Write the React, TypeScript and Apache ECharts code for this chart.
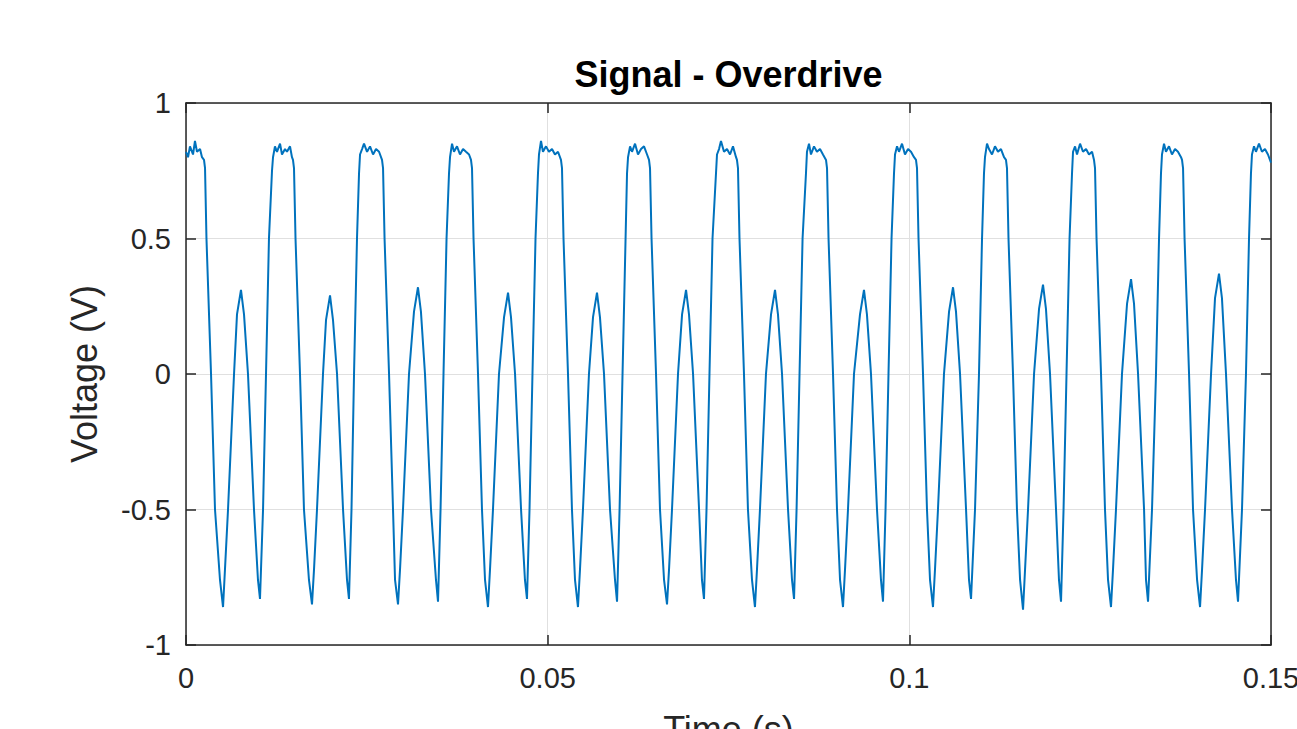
import React, { useEffect, useRef } from "react";
import * as echarts from "echarts";

// Time (ms) / voltage (V) pairs, one array per period
const cycle01 = [[0.00,0.82],[0.28,0.80],[0.55,0.84],[0.97,0.81],[1.24,0.86],[1.52,0.82],[1.94,0.83],[2.21,0.80],[2.49,0.79],[2.63,0.76],[2.83,0.5],[3.46,0],[4.01,-0.5],[4.70,-0.76],[5.12,-0.86],[5.39,-0.72],[5.81,-0.5],[6.64,0],[7.05,0.22],[7.60,0.31],[8.02,0.22],[8.57,0],[9.40,-0.5],[9.95,-0.76],[10.23,-0.83],[10.65,-0.5],[11.06,0],[11.47,0.5],[11.89,0.75]];
const cycle02 = [[12.03,0.80],[12.30,0.84],[12.58,0.82],[13.00,0.85],[13.27,0.81],[13.69,0.83],[13.96,0.82],[14.38,0.84],[14.65,0.80],[14.79,0.79],[14.93,0.76],[15.14,0.5],[15.76,0],[16.31,-0.5],[17.00,-0.76],[17.42,-0.85],[17.70,-0.72],[18.11,-0.5],[18.94,0],[19.36,0.20],[19.91,0.29],[20.32,0.20],[20.88,0],[21.71,-0.5],[22.26,-0.76],[22.53,-0.83],[22.88,-0.5],[23.23,0],[23.64,0.5],[23.92,0.74]];
const cycle03 = [[24.06,0.81],[24.34,0.83],[24.61,0.85],[25.03,0.82],[25.44,0.84],[25.86,0.81],[26.27,0.83],[26.69,0.82],[27.10,0.79],[27.24,0.76],[27.45,0.5],[28.07,0],[28.62,-0.5],[28.90,-0.76],[29.31,-0.85],[29.59,-0.72],[30.00,-0.5],[30.83,0],[31.52,0.23],[32.07,0.32],[32.48,0.23],[33.04,0],[33.87,-0.5],[34.56,-0.76],[34.84,-0.84],[35.19,-0.5],[35.60,0],[36.02,0.5],[36.36,0.74]];
const cycle04 = [[36.50,0.80],[36.78,0.85],[37.05,0.82],[37.47,0.84],[37.88,0.81],[38.30,0.83],[38.71,0.82],[39.13,0.81],[39.40,0.79],[39.54,0.76],[39.75,0.5],[40.37,0],[40.92,-0.5],[41.34,-0.76],[41.75,-0.86],[42.03,-0.72],[42.44,-0.5],[43.27,0],[43.97,0.21],[44.52,0.30],[44.93,0.21],[45.49,0],[46.32,-0.5],[46.86,-0.76],[47.14,-0.83],[47.49,-0.5],[47.90,0],[48.32,0.5],[48.66,0.74]];
const cycle05 = [[48.80,0.81],[49.08,0.86],[49.35,0.82],[49.77,0.84],[50.18,0.82],[50.60,0.83],[51.01,0.81],[51.43,0.82],[51.84,0.79],[51.98,0.76],[52.19,0.5],[52.81,0],[53.36,-0.5],[53.78,-0.76],[54.19,-0.86],[54.47,-0.72],[54.88,-0.5],[55.71,0],[56.27,0.21],[56.82,0.30],[57.23,0.21],[57.79,0],[58.62,-0.5],[59.31,-0.76],[59.59,-0.84],[59.94,-0.5],[60.35,0],[60.77,0.5],[60.97,0.74]];
const cycle06 = [[61.11,0.80],[61.39,0.84],[61.66,0.82],[62.08,0.85],[62.49,0.81],[62.91,0.83],[63.32,0.84],[63.74,0.81],[64.01,0.79],[64.15,0.76],[64.36,0.5],[64.98,0],[65.53,-0.5],[66.09,-0.76],[66.50,-0.85],[66.78,-0.72],[67.19,-0.5],[68.02,0],[68.58,0.22],[69.13,0.31],[69.54,0.22],[70.10,0],[70.93,-0.5],[71.33,-0.76],[71.61,-0.83],[71.96,-0.5],[72.37,0],[72.79,0.5],[73.27,0.74]];
const cycle07 = [[73.41,0.81],[73.69,0.83],[73.96,0.86],[74.38,0.82],[74.79,0.83],[75.21,0.81],[75.62,0.84],[76.04,0.80],[76.17,0.79],[76.31,0.76],[76.52,0.5],[77.14,0],[77.69,-0.5],[78.25,-0.76],[78.66,-0.86],[78.94,-0.72],[79.35,-0.5],[80.18,0],[80.88,0.22],[81.43,0.31],[81.84,0.22],[82.40,0],[83.23,-0.5],[83.78,-0.76],[84.06,-0.83],[84.41,-0.5],[84.82,0],[85.24,0.5],[85.71,0.74]];
const cycle08 = [[85.85,0.82],[86.13,0.85],[86.40,0.81],[86.82,0.84],[87.23,0.82],[87.65,0.83],[88.06,0.81],[88.48,0.79],[88.62,0.76],[88.83,0.5],[89.45,0],[90.00,-0.5],[90.42,-0.76],[90.83,-0.86],[91.11,-0.72],[91.52,-0.5],[92.35,0],[93.18,0.22],[93.73,0.31],[94.14,0.22],[94.70,0],[95.53,-0.5],[96.08,-0.76],[96.36,-0.84],[96.71,-0.5],[97.12,0],[97.54,0.5],[97.88,0.74]];
const cycle09 = [[98.02,0.81],[98.30,0.84],[98.57,0.82],[98.99,0.85],[99.40,0.81],[99.82,0.83],[100.23,0.82],[100.65,0.80],[100.92,0.79],[101.06,0.76],[101.27,0.5],[101.89,0],[102.44,-0.5],[102.86,-0.76],[103.27,-0.86],[103.55,-0.72],[103.96,-0.5],[104.79,0],[105.49,0.23],[106.04,0.32],[106.45,0.23],[107.01,0],[107.84,-0.5],[108.25,-0.76],[108.53,-0.83],[109.08,-0.5],[109.63,0],[110.05,0.5],[110.32,0.74]];
const cycle10 = [[110.46,0.80],[110.74,0.85],[111.01,0.83],[111.43,0.81],[111.84,0.84],[112.26,0.82],[112.67,0.83],[113.09,0.80],[113.36,0.79],[113.50,0.76],[113.71,0.5],[114.33,0],[114.88,-0.5],[115.31,-0.76],[115.72,-0.87],[116.00,-0.72],[116.41,-0.5],[117.24,0],[117.93,0.24],[118.48,0.33],[118.89,0.24],[119.45,0],[120.28,-0.5],[120.69,-0.76],[120.97,-0.84],[121.32,-0.5],[121.73,0],[122.15,0.5],[122.49,0.74]];
const cycle11 = [[122.63,0.82],[122.91,0.84],[123.18,0.81],[123.60,0.85],[124.01,0.82],[124.43,0.83],[124.84,0.81],[125.26,0.82],[125.53,0.79],[125.67,0.76],[125.88,0.5],[126.50,0],[127.05,-0.5],[127.47,-0.76],[127.88,-0.86],[128.16,-0.72],[128.57,-0.5],[129.40,0],[130.10,0.26],[130.65,0.35],[131.06,0.26],[131.62,0],[132.45,-0.5],[132.72,-0.76],[133.00,-0.84],[133.55,-0.5],[134.10,0],[134.52,0.5],[134.79,0.74]];
const cycle12 = [[134.93,0.81],[135.21,0.85],[135.48,0.82],[135.90,0.84],[136.31,0.81],[136.73,0.83],[137.14,0.82],[137.56,0.80],[137.70,0.79],[137.84,0.76],[138.05,0.5],[138.67,0],[139.22,-0.5],[139.78,-0.76],[140.19,-0.86],[140.47,-0.72],[140.88,-0.5],[141.71,0],[142.26,0.28],[142.81,0.37],[143.22,0.28],[143.78,0],[144.61,-0.5],[145.16,-0.76],[145.44,-0.84],[145.99,-0.5],[146.54,0],[146.96,0.5],[147.23,0.74]];
const cycle13 = [[147.37,0.81],[147.65,0.84],[147.92,0.82],[148.34,0.85],[148.75,0.82],[149.17,0.83],[149.58,0.81],[150.00,0.78]];

const xTicks = [0, 0.05, 0.1, 0.15];
const yTicks = [-1, -0.5, 0, 0.5, 1];

const titleText = "Signal - Overdrive";
const xName = "Time (s)";
const yName = "Voltage (V)";

const cycles = [cycle01, cycle02, cycle03, cycle04, cycle05, cycle06, cycle07, cycle08, cycle09, cycle10, cycle11, cycle12, cycle13];

export default function App() {
  const ref = useRef<HTMLDivElement>(null);
  useEffect(() => {
    if (!ref.current) return;
    const chart = echarts.init(ref.current, null, { renderer: "svg" });
    const data = cycles.flat().map(([ms, v]) => [ms / 1000, v]);
    const axisColor = "#262626";
    const font = '"Liberation Sans", Arial, Helvetica, sans-serif';
    const xMin = xTicks[0];
    const xMax = xTicks[xTicks.length - 1];
    const xInt = xTicks[1] - xTicks[0];
    const yMin = yTicks[0];
    const yMax = yTicks[yTicks.length - 1];
    const yInt = yTicks[1] - yTicks[0];
    const tick = { show: true, inside: true, length: 10, lineStyle: { color: axisColor, width: 1.5 } };
    const line = { show: true, onZero: false, lineStyle: { color: axisColor, width: 1.5 } };
    const grid = { show: true, lineStyle: { color: "#e0e0e0", width: 1 } };
    chart.setOption({
      animation: false,
      backgroundColor: "#ffffff",
      grid: { left: 186, top: 103, width: 1085, height: 542, containLabel: false },
      graphic: [
        {
          type: "text",
          x: 728.5,
          y: 74,
          style: {
            text: titleText,
            align: "center",
            verticalAlign: "middle",
            font: `bold 36px ${font}`,
            fill: "#000000",
          },
        },
      ],
      xAxis: [
        {
          type: "value",
          min: xMin,
          max: xMax,
          interval: xInt,
          position: "bottom",
          axisLine: line,
          axisTick: tick,
          splitLine: grid,
          axisLabel: { color: axisColor, fontSize: 29, fontFamily: font, margin: 18, showMaxLabel: true, showMinLabel: true },
          name: xName,
          nameLocation: "middle",
          nameGap: 66,
          nameTextStyle: { color: axisColor, fontSize: 36, fontFamily: font },
        },
        {
          type: "value",
          min: xMin,
          max: xMax,
          interval: xInt,
          position: "top",
          axisLine: line,
          axisTick: tick,
          splitLine: { show: false },
          axisLabel: { show: false },
        },
      ],
      yAxis: [
        {
          type: "value",
          min: yMin,
          max: yMax,
          interval: yInt,
          position: "left",
          axisLine: line,
          axisTick: tick,
          splitLine: grid,
          axisLabel: { color: axisColor, fontSize: 29, fontFamily: font, margin: 15 },
          name: yName,
          nameLocation: "middle",
          nameGap: 84,
          nameTextStyle: { color: axisColor, fontSize: 36, fontFamily: font },
        },
        {
          type: "value",
          min: yMin,
          max: yMax,
          interval: yInt,
          position: "right",
          axisLine: line,
          axisTick: tick,
          splitLine: { show: false },
          axisLabel: { show: false },
        },
      ],
      series: [
        {
          type: "line",
          data,
          xAxisIndex: 0,
          yAxisIndex: 0,
          showSymbol: false,
          symbol: "none",
          lineStyle: { color: "#0072BD", width: 2 },
          clip: true,
        },
      ],
    });
    return () => chart.dispose();
  }, []);
  return (
    <div
      ref={ref}
      style={{ position: "fixed", left: 0, top: 0, width: 1340, height: 770, background: "#fff" }}
    />
  );
}
